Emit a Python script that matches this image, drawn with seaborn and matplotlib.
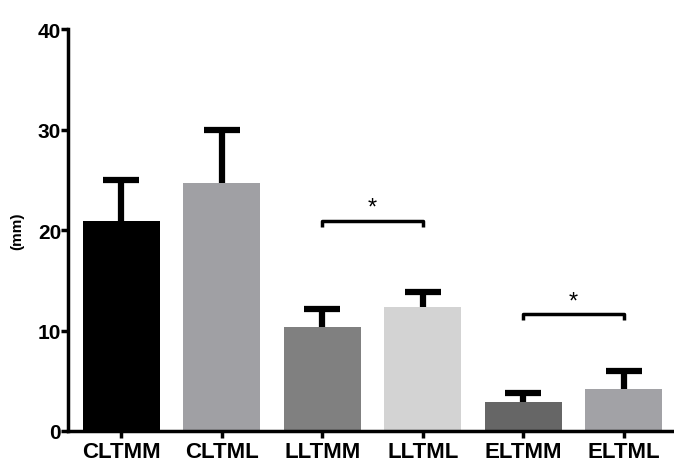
import matplotlib
matplotlib.use("Agg")
import matplotlib.pyplot as plt
import seaborn as sns
import pandas as pd

categories = ["CLTMM", "CLTML", "LLTMM", "LLTML", "ELTMM", "ELTML"]
means = [20.9, 24.7, 10.4, 12.3, 2.9, 4.2]
sem = [4.1, 5.3, 1.7, 1.5, 0.9, 1.8]
colors = ["#000000", "#a0a0a4", "#808080", "#d3d3d3", "#666666", "#a2a2a6"]
sig_pairs = [("LLTMM", "LLTML", 20.9), ("ELTMM", "ELTML", 11.6)]
y_ticks = [0, 10, 20, 30, 40]

sns.set_style("ticks")
plt.rcParams["font.family"] = ["Liberation Sans", "DejaVu Sans"]
plt.rcParams["text.color"] = "black"
plt.rcParams["xtick.color"] = "black"
plt.rcParams["ytick.color"] = "black"
plt.rcParams["axes.labelcolor"] = "black"

df = pd.DataFrame({"cat": categories, "val": means})
fig = plt.figure(figsize=(6.74, 4.64), dpi=100)
ax = fig.add_axes([0.101, 0.069, 0.896, 0.866])

sns.barplot(data=df, x="cat", y="val", hue="cat", palette=colors, legend=False,
            errorbar=None, width=0.77, ax=ax, linewidth=0, saturation=1, zorder=2)

xs = list(range(len(categories)))
tops = [m + s for m, s in zip(means, sem)]
ax.vlines(xs, means, tops, color="black", lw=4.5, zorder=1)
ax.hlines(tops, [x - 0.18 for x in xs], [x + 0.18 for x in xs], color="black",
          lw=4.5, zorder=1)

for a, b, h in sig_pairs:
    i, j = categories.index(a), categories.index(b)
    ax.plot([i, i, j, j], [h - 0.6, h, h, h - 0.6], color="black", lw=2.5,
            solid_capstyle="butt", zorder=3)
    ax.text((i + j) / 2, h + 0.2, "*", ha="center", va="bottom", fontsize=17,
            color="black")

ax.set_ylim(0, 40)
ax.set_xlim(-0.53, 5.48)
ax.set_yticks(y_ticks)
ax.set_yticklabels([str(t) for t in y_ticks], fontsize=15, fontweight="bold")
ax.set_xticks(xs)
ax.set_xticklabels(categories, fontsize=16, fontweight="bold")
ax.set_xlabel("")
ax.set_ylabel("(mm)", fontsize=11, fontweight="bold", labelpad=10)
ax.tick_params(axis="both", length=5, width=2.5, color="black", pad=0)
ax.tick_params(axis="x", pad=2)
for s in ["left", "bottom"]:
    ax.spines[s].set_linewidth(2.5)
    ax.spines[s].set_color("black")
sns.despine(ax=ax)

fig.savefig("out.png", dpi=100)
